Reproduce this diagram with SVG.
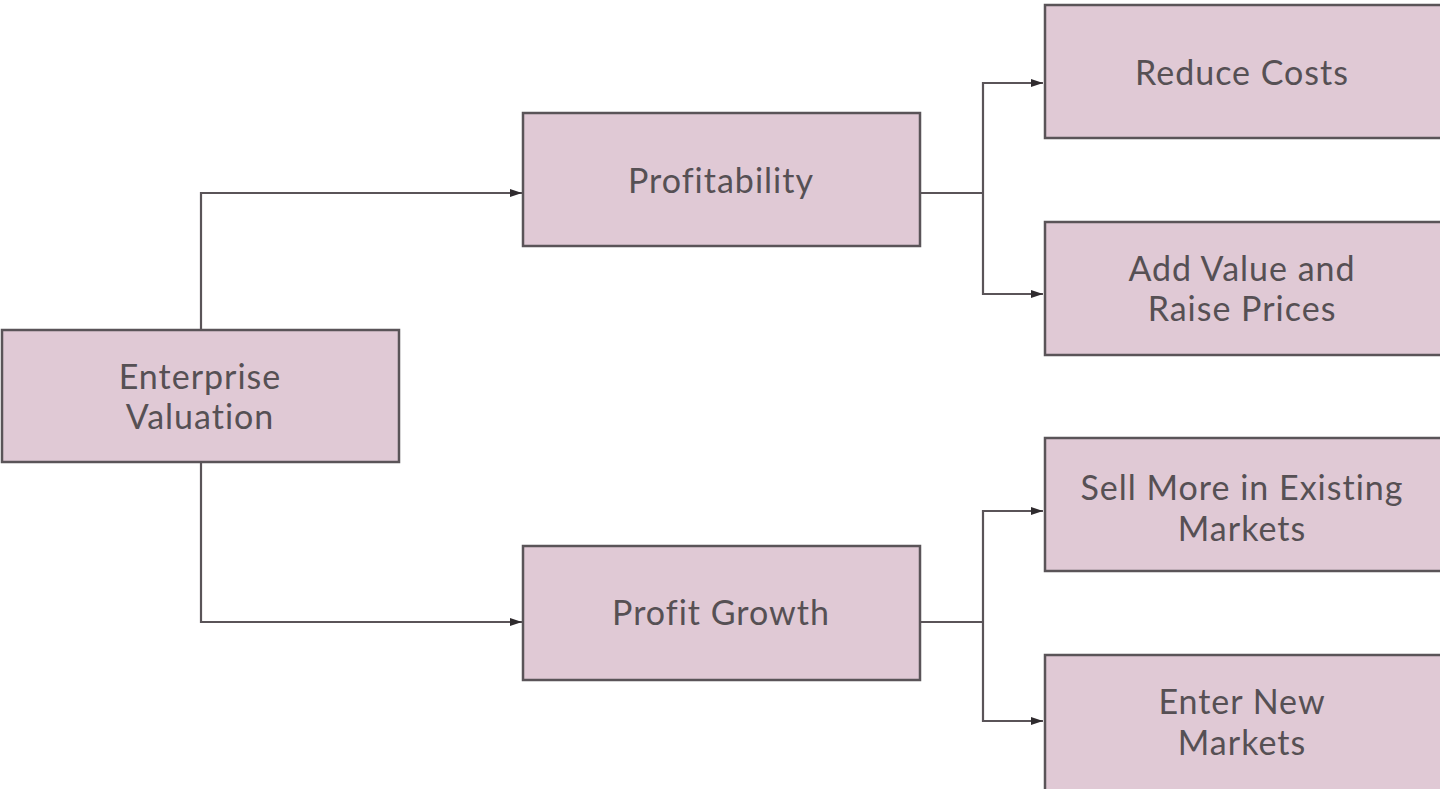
<svg xmlns="http://www.w3.org/2000/svg" width="1440" height="789" viewBox="0 0 1440 789">
<style>
.box{fill:#e0c9d5;stroke:#5a5458;stroke-width:2.5}
.lbl{font-family:Lato,"Open Sans",sans-serif;font-size:34px;letter-spacing:1px;font-variant-ligatures:none;fill:#565054;text-anchor:middle}
.con{fill:none;stroke:#5a5458;stroke-width:2.2}
</style>
<defs>
<marker id="arr" viewBox="0 0 12 8" refX="12" refY="4" markerWidth="12" markerHeight="8" markerUnits="userSpaceOnUse" orient="auto">
<path d="M0,0 L12,4 L0,8 Z" fill="#2f2b2e"/>
</marker>
</defs>
<rect width="1440" height="789" fill="#ffffff"/>
<g id="connectors">
<path class="con" d="M201,330 V193 H522" marker-end="url(#arr)"/>
<path class="con" d="M201,463 V622 H522" marker-end="url(#arr)"/>
<path class="con" d="M920,193 H983"/>
<path class="con" d="M983,193 V83 H1043" marker-end="url(#arr)"/>
<path class="con" d="M983,193 V294 H1043" marker-end="url(#arr)"/>
<path class="con" d="M920,622 H983"/>
<path class="con" d="M983,622 V511 H1043" marker-end="url(#arr)"/>
<path class="con" d="M983,622 V721 H1043" marker-end="url(#arr)"/>
</g>
<g id="enterprise-valuation">
<rect class="box" x="2" y="330" width="397" height="132"/>
<text class="lbl" x="200" y="389">Enterprise</text>
<text class="lbl" x="200" y="429">Valuation</text>
</g>
<g id="profitability">
<rect class="box" x="523" y="113" width="397" height="133"/>
<text class="lbl" x="721" y="193">Profitability</text>
</g>
<g id="profit-growth">
<rect class="box" x="523" y="546" width="397" height="134"/>
<text class="lbl" x="721" y="625">Profit Growth</text>
</g>
<g id="reduce-costs">
<rect class="box" x="1045" y="5" width="400" height="133"/>
<text class="lbl" x="1242" y="85">Reduce Costs</text>
</g>
<g id="add-value">
<rect class="box" x="1045" y="222" width="400" height="133"/>
<text class="lbl" x="1242" y="281">Add Value and</text>
<text class="lbl" x="1242" y="321">Raise Prices</text>
</g>
<g id="sell-more">
<rect class="box" x="1045" y="438" width="400" height="133"/>
<text class="lbl" x="1242" y="500">Sell More in Existing</text>
<text class="lbl" x="1242" y="541">Markets</text>
</g>
<g id="enter-new">
<rect class="box" x="1045" y="655" width="400" height="140"/>
<text class="lbl" x="1242" y="714">Enter New</text>
<text class="lbl" x="1242" y="755">Markets</text>
</g>
</svg>
